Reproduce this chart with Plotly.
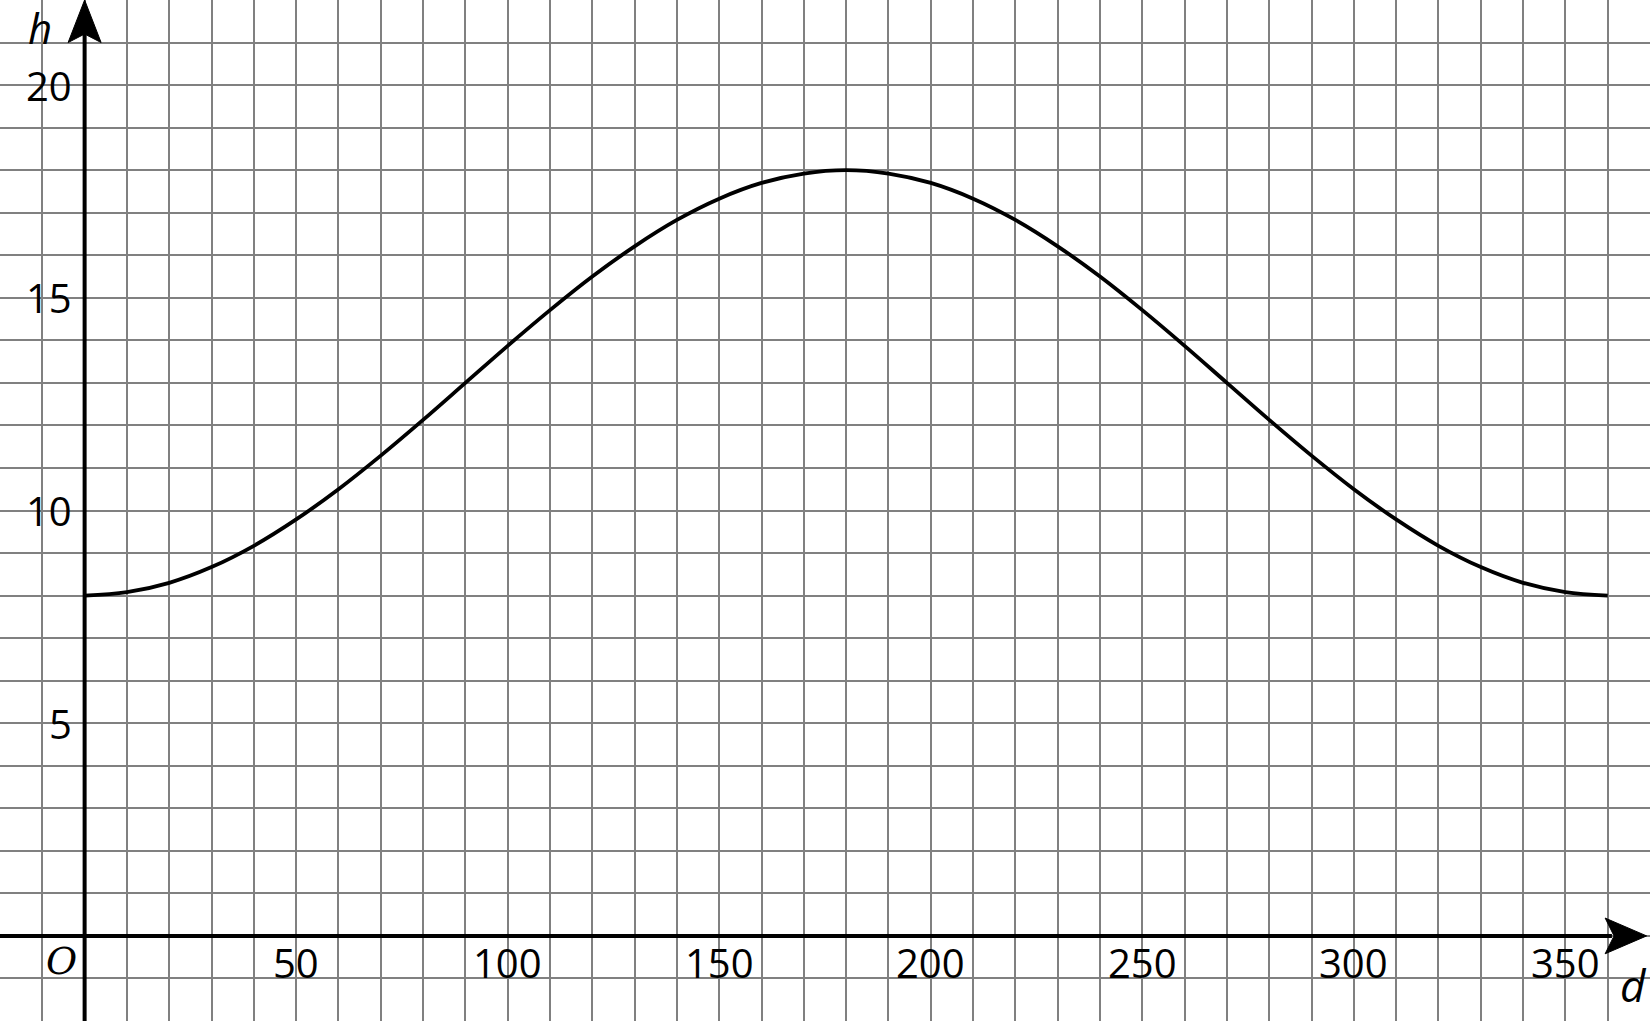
import plotly.graph_objects as go

# ---- data ----
d_vals = [0, 10, 20, 30, 40, 50, 60, 70, 80, 90, 100, 110, 120, 130, 140, 150, 160, 170, 180,
          190, 200, 210, 220, 230, 240, 250, 260, 270, 280, 290, 300, 310, 320, 330, 340, 350, 360]
h_vals = [8.0, 8.08, 8.3, 8.67, 9.17, 9.79, 10.5, 11.29, 12.13, 13.0, 13.87, 14.71, 15.5, 16.21, 16.83, 17.33, 17.7, 17.92, 18.0,
          17.92, 17.7, 17.33, 16.83, 16.21, 15.5, 14.71, 13.87, 13.0, 12.13, 11.29, 10.5, 9.79, 9.17, 8.67, 8.3, 8.08, 8.0]

x_ticks = [50, 100, 150, 200, 250, 300, 350]
y_ticks = [5, 10, 15, 20]

FONT = "Open Sans"
grid_col = "#808080"

fig = go.Figure()
fig.add_trace(go.Scatter(x=d_vals, y=h_vals, mode="lines",
                         line=dict(color="black", width=3.8, shape="spline", smoothing=1.0),
                         hoverinfo="skip", showlegend=False))

# axes lines
fig.add_shape(type="line", x0=-20, x1=361, y0=0, y1=0, line=dict(color="black", width=4), layer="above")
fig.add_shape(type="line", x0=0, x1=0, y0=-2, y1=21.2, line=dict(color="black", width=4), layer="above")

# arrow heads
fig.add_shape(type="path", path="M 369.2 0 L 359.4 0.42 L 361.5 0 L 359.4 -0.42 Z",
              fillcolor="black", line=dict(color="black", width=1), layer="above")
fig.add_shape(type="path", path="M 0 22 L -3.9 21.0 L 0 21.2 L 3.9 21.0 Z",
              fillcolor="black", line=dict(color="black", width=1), layer="above")

anns = []
for v in x_ticks:
    anns.append(dict(x=v, y=-0.62, text=str(v), showarrow=False, xanchor="center", yanchor="middle",
                     font=dict(family=FONT, size=40, color="black")))
for v in y_ticks:
    anns.append(dict(x=-2.6, y=v, text=str(v), showarrow=False, xanchor="right", yanchor="middle",
                     font=dict(family=FONT, size=40, color="black")))
anns.append(dict(x=-10.6, y=21.35, text="<i>h</i>", showarrow=False, xanchor="center", yanchor="middle",
                 font=dict(family=FONT, size=42, color="black")))
anns.append(dict(x=366, y=-1.15, text="<i>d</i>", showarrow=False, xanchor="center", yanchor="middle",
                 font=dict(family=FONT, size=44, color="black")))
anns.append(dict(x=-5.4, y=-0.6, text="<i>O</i>", showarrow=False, xanchor="center", yanchor="middle",
                 font=dict(family="DejaVu Serif", size=38, color="black")))

fig.update_layout(
    width=1650, height=1021,
    margin=dict(l=0, r=0, t=0, b=0),
    paper_bgcolor="white", plot_bgcolor="white",
    annotations=anns,
    xaxis=dict(range=[-20, 370], dtick=10, tick0=0, showgrid=True, gridcolor=grid_col, gridwidth=2,
               zeroline=False, showticklabels=False, ticks="", fixedrange=True),
    yaxis=dict(range=[-2, 22], dtick=1, tick0=0, showgrid=True, gridcolor=grid_col, gridwidth=2,
               zeroline=False, showticklabels=False, ticks="", fixedrange=True),
)

# page body has a default margin; remove it so the chart fills the window
fig.write_html("out.html", config={"displayModeBar": False},
               post_script="document.body.style.margin='0';document.body.style.overflow='hidden';")
